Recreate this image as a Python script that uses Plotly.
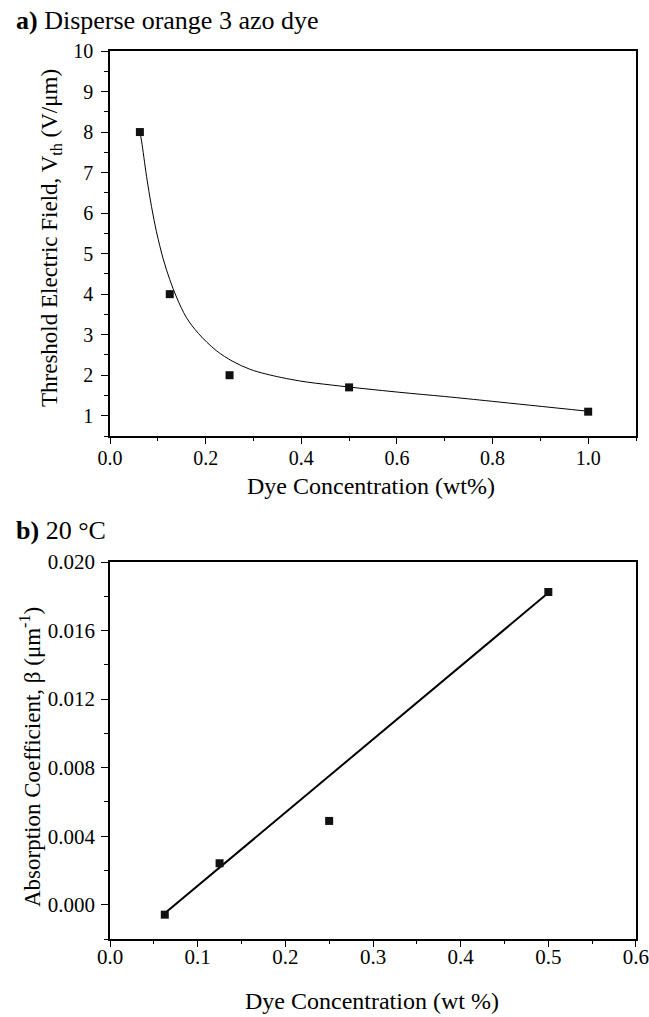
import plotly.graph_objects as go

# ---- data panel a ----
conc_a = [0.0625, 0.125, 0.25, 0.5, 1.0]
vth_a = [8.0, 4.0, 2.0, 1.7, 1.1]
fit_a_x = [0.0625, 0.066, 0.0764, 0.0868, 0.0972, 0.111, 0.125, 0.139, 0.16, 0.185, 0.222, 0.257,
           0.292, 0.326, 0.396, 0.465, 0.604, 0.7, 0.8, 1.0]
fit_a_y = [8.0, 7.78, 6.91, 6.16, 5.54, 4.88, 4.36, 3.93, 3.42, 3.03, 2.61, 2.34,
           2.15, 2.03, 1.86, 1.755, 1.58, 1.475, 1.355, 1.11]

# ---- data panel b ----
conc_b = [0.0625, 0.125, 0.25, 0.5]
beta_b = [-0.00058, 0.00242, 0.00489, 0.01825]
fit_b_x = [0.0625, 0.5]
fit_b_y = [-0.0005, 0.0182]

W, H = 649, 1017
FONT = "Liberation Serif"

def fx(px):
    return px / W

def fy(py):
    return 1 - py / H

fig = go.Figure()
fig.add_trace(go.Scatter(x=fit_a_x, y=fit_a_y, mode="lines",
                         line=dict(color="black", width=1, shape="spline", smoothing=1.0),
                         xaxis="x", yaxis="y", showlegend=False, hoverinfo="skip"))
fig.add_trace(go.Scatter(x=conc_a, y=vth_a, mode="markers", marker=dict(symbol="square", size=8, color="#111"),
                         xaxis="x", yaxis="y", showlegend=False))
fig.add_trace(go.Scatter(x=fit_b_x, y=fit_b_y, mode="lines", line=dict(color="black", width=2),
                         xaxis="x2", yaxis="y2", showlegend=False, hoverinfo="skip"))
fig.add_trace(go.Scatter(x=conc_b, y=beta_b, mode="markers", marker=dict(symbol="square", size=8, color="#111"),
                         xaxis="x2", yaxis="y2", showlegend=False))

def axis_style(size):
    return dict(showline=True, linecolor="black", linewidth=1.5, mirror=True, ticks="outside",
                tickwidth=1, tickcolor="black", showgrid=False, zeroline=False,
                automargin=False, ticklabeloverflow="allow",
                tickfont=dict(family=FONT, size=size, color="black"))

fig.update_layout(
    template="none",
    width=W, height=H,
    margin=dict(l=0, r=0, t=0, b=0, pad=0),
    paper_bgcolor="white", plot_bgcolor="white",
    font=dict(family=FONT, color="black"),
    xaxis=dict(domain=[fx(110), fx(636)], anchor="y", range=[0, 1.1], dtick=0.2, tick0=0, tickformat=".1f",
               ticklen=6, ticklabelstandoff=-3,
               minor=dict(dtick=0.1, ticks="outside", ticklen=3, tickcolor="black"), **axis_style(20)),
    yaxis=dict(domain=[fy(436), fy(51)], anchor="x", range=[0.5, 10], dtick=1, tick0=0,
               ticklen=7, ticklabelstandoff=4,
               minor=dict(dtick=0.5, ticks="outside", ticklen=4, tickcolor="black"), **axis_style(20)),
    xaxis2=dict(domain=[fx(110), fx(636)], anchor="y2", range=[0, 0.60001], dtick=0.1, tick0=0,
                tickformat=".1f", ticklen=6, ticklabelstandoff=-8,
                minor=dict(dtick=0.05, ticks="outside", ticklen=3, tickcolor="black"), **axis_style(21)),
    yaxis2=dict(domain=[fy(939), fy(562)], anchor="x2", range=[-0.002, 0.020], dtick=0.004, tick0=0,
                tickformat=".3f", ticklen=7, ticklabelstandoff=2,
                minor=dict(dtick=0.002, ticks="outside", ticklen=4, tickcolor="black"), **axis_style(21)),
)

ann = [
    dict(text="<b>a)</b> Disperse orange 3 azo dye", x=fx(14), y=fy(21), xanchor="left", yanchor="middle",
         font=dict(size=26)),
    dict(text="<b>b)</b> 20 °C", x=fx(14), y=fy(530), xanchor="left", yanchor="middle", font=dict(size=26)),
    dict(text="Dye Concentration (wt%)", x=fx(371), y=fy(486), xanchor="center", yanchor="middle",
         font=dict(size=24)),
    dict(text="Dye Concentration (wt %)", x=fx(372), y=fy(1001), xanchor="center", yanchor="middle",
         font=dict(size=24)),
    dict(text="Threshold Electric Field, V<sub>th</sub> (V/μm)", x=fx(51), y=fy(238), textangle=-90,
         xanchor="center", yanchor="middle", font=dict(size=23)),
    dict(text="Absorption Coefficient, β (μm<sup>-1</sup>)", x=fx(30), y=fy(757), textangle=-90,
         xanchor="center", yanchor="middle", font=dict(size=23)),
]
for a in ann:
    a.update(xref="paper", yref="paper", showarrow=False)
    a["font"].update(family=FONT, color="black")
fig.update_layout(annotations=ann)

fig.write_html("out.html", config={"displayModeBar": False},
               post_script="document.body.style.margin='0';")
